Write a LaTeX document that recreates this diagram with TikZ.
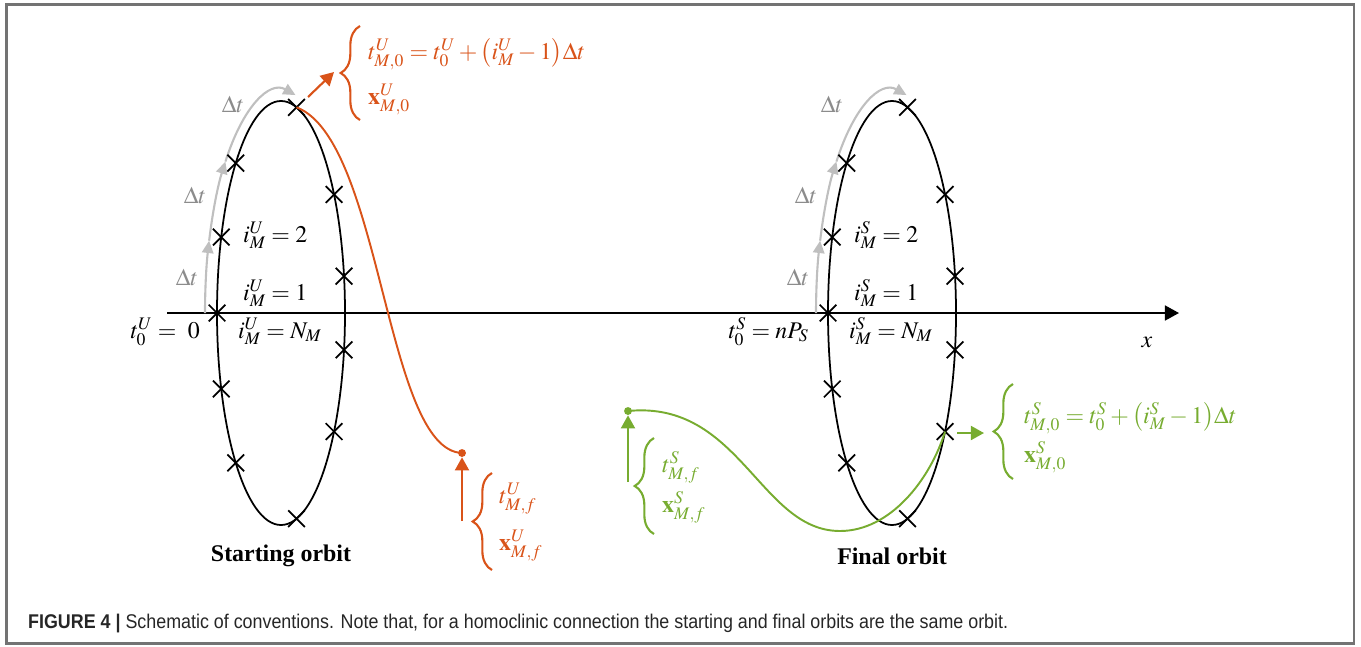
\documentclass[tikz,border=0pt]{standalone}
\usepackage{mathptmx}
\usepackage{fontspec}
\setmainfont{Liberation Serif}
\newfontfamily\capfont[FakeStretch=0.9]{Liberation Sans}
\usetikzlibrary{arrows.meta, shapes.misc, decorations.pathreplacing, positioning}

\definecolor{morange}{RGB}{217,83,25}
\definecolor{mgreen}{RGB}{119,172,48}

\begin{document}
\begin{tikzpicture}[x=0.02cm, y=-0.02cm,
        font=\fontsize{13.6}{16}\selectfont,
        orbit/.style = {draw=black, line width=1pt},
        crossmk/.style = {cross out, draw=black, line width=1pt, minimum size=8.5pt, inner sep=0pt},
        steparrow/.style = {draw=gray!50, line width=1.2pt, -{Triangle[length=7pt, width=6.5pt]}},
        steplabel/.style = {text=black!45},
        leg/.style = {line width=1.2pt, -{Triangle[length=7.5pt, width=8pt]}},
        bracket/.style = {line width=1.2pt, decorate, decoration={brace, amplitude=11pt}},
        enddot/.style = {circle, inner sep=0pt, minimum size=4.5pt}
    ]
    \useasboundingbox (0,0) rectangle (1361,646);
    \draw[black!55, line width=1.2pt] (6.5,4.5) rectangle (1354,643.5);

    % x axis
    \coordinate (xstart) at (167,313);
    \coordinate (xend) at (1179,313);
    \draw[line width=1.1pt, -{Triangle[length=8pt, width=8.5pt]}] (xstart) -- (xend);
    \node (xlab) at (1147,342) {$x$};

    % starting orbit
    \begin{scope}[shift={(281,313)}]
        \foreach \s/\e in {180/199, 199/223, 223/281}
            \draw[steparrow] (\s:76 and 222) arc[start angle=\s, end angle=\e, x radius=76, y radius=222];
        \draw[orbit] (0,0) ellipse [x radius=64, y radius=212];
        \foreach \a [count=\k] in {180,201,225,284,326,350,10,34,76,135,159}
            \node[crossmk] (u\k) at (\a:64 and 212) {};
        \node[steplabel] (ud1) at (-94,-36) {$\Delta t$};
        \node[steplabel] (ud2) at (-86,-118) {$\Delta t$};
        \node[steplabel] (ud3) at (-48,-209) {$\Delta t$};
        \node[anchor=base west] (ui2) at (-44,-71) {$i^U_M=2$};
        \node[anchor=base west] (ui1) at (-44,-13) {$i^U_M=1$};
        \node[anchor=base west] (uiN) at (-49,25) {$i^U_M=N_M$};
        \node[anchor=base east] (ut0) at (-75,25) {$t^U_0=\ 0$};
        \node[font=\fontsize{13.6}{16}\selectfont\bfseries] (uname) at (0,243) {Starting orbit};
    \end{scope}

    % final orbit
    \begin{scope}[shift={(892,313)}]
        \foreach \s/\e in {180/199, 199/223, 223/281}
            \draw[steparrow] (\s:76 and 222) arc[start angle=\s, end angle=\e, x radius=76, y radius=222];
        \draw[orbit] (0,0) ellipse [x radius=64, y radius=212];
        \foreach \a [count=\k] in {180,201,225,284,326,350,10,34,76,135,159}
            \node[crossmk] (s\k) at (\a:64 and 212) {};
        \node[steplabel] (sd1) at (-94,-36) {$\Delta t$};
        \node[steplabel] (sd2) at (-86,-118) {$\Delta t$};
        \node[steplabel] (sd3) at (-60,-209) {$\Delta t$};
        \node[anchor=base west] (si2) at (-44,-71) {$i^S_M=2$};
        \node[anchor=base west] (si1) at (-44,-13) {$i^S_M=1$};
        \node[anchor=base west] (siN) at (-49,25) {$i^S_M=N_M$};
        \node[anchor=base east] (st0) at (-77,25) {$t^S_0=nP_S$};
        \node[font=\fontsize{13.6}{16}\selectfont\bfseries] (sname) at (0,243) {Final orbit};
    \end{scope}

    % unstable leg (orange)
    \node[enddot, fill=morange] (uf) at (462,453) {};
    \draw[morange, line width=1.1pt] (u4.center) .. controls (382,140) and (385,450) .. (uf.center);
    \coordinate (ua) at (308,97);
    \coordinate (ub) at (334,72);
    \draw[leg, morange] (ua) -- (ub);
    \draw[bracket, morange] (360,120) -- (360,26);
    \node[anchor=base west, text=morange] (ut) at (362,59) {$t^U_{M,0}=t^U_0+\bigl(i^U_M-1\bigr)\Delta t$};
    \node[anchor=base west, text=morange] (ux) at (362,104) {$\mathbf{x}^U_{M,0}$};
    \coordinate (uc) at (462,521);
    \draw[leg, morange] (uc) -- (uf);
    \draw[bracket, morange] (492,570) -- (492,473);
    \node[anchor=base west, text=morange] (utf) at (493,503) {$t^U_{M,f}$};
    \node[anchor=base west, text=morange] (uxf) at (493,550) {$\mathbf{x}^U_{M,f}$};

    % stable leg (green)
    \node[enddot, fill=mgreen] (sf) at (628,411) {};
    \draw[mgreen, line width=1.1pt] (sf.center) .. controls (740,400) and (760,531) .. (840,531)
        .. controls (890,531) and (930,480) .. (s8.center);
    \coordinate (sc) at (628,482);
    \draw[leg, mgreen] (sc) -- (sf);
    \draw[bracket, mgreen] (654,534) -- (654,438);
    \node[anchor=base west, text=mgreen] (stf) at (656,472) {$t^S_{M,f}$};
    \node[anchor=base west, text=mgreen] (sxf) at (656,512) {$\mathbf{x}^S_{M,f}$};
    \coordinate (sa) at (957,433);
    \coordinate (sb) at (984,433);
    \draw[leg, mgreen] (sa) -- (sb);
    \draw[bracket, mgreen] (1013,479) -- (1013,384);
    \node[anchor=base west, text=mgreen] (st) at (1018,423) {$t^S_{M,0}=t^S_0+\bigl(i^S_M-1\bigr)\Delta t$};
    \node[anchor=base west, text=mgreen] (sx) at (1018,462) {$\mathbf{x}^S_{M,0}$};

    % caption
    \node[anchor=base west, text=black!85, font=\capfont\fontsize{11.3}{13}\selectfont] (cap) at (22,628)
        {\textbf{FIGURE 4 |} Schematic of conventions. Note that, for a homoclinic connection the starting and final orbits are the same orbit.};
\end{tikzpicture}
\end{document}
